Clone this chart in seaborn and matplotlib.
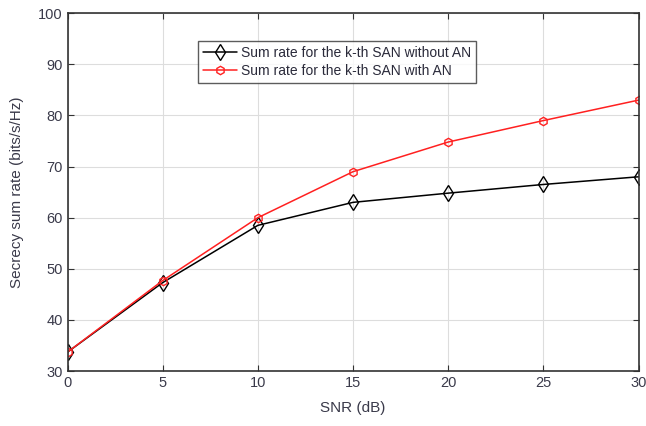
import matplotlib
matplotlib.use("Agg")
import matplotlib.pyplot as plt
import seaborn as sns
import pandas as pd

snr = [0, 5, 10, 15, 20, 25, 30]
rate_without_an = [33.7, 47.3, 58.5, 63.0, 64.8, 66.5, 68.0]
rate_with_an = [33.7, 47.7, 60.0, 69.0, 74.8, 79.0, 83.0]
label_without = "Sum rate for the k-th SAN without AN"
label_with = "Sum rate for the k-th SAN with AN"

sns.set_theme(style="white")
plt.rcParams['font.family'] = ['Liberation Sans', 'DejaVu Sans']

df = pd.DataFrame({"snr": snr, "without": rate_without_an, "with": rate_with_an})

fig = plt.figure(figsize=(6.46, 4.26), dpi=100)
ax = fig.add_axes([0.1045, 0.129, 0.884, 0.840])

sns.lineplot(data=df, x="snr", y="without", ax=ax, color="black", lw=1.1,
             marker="d", markersize=8, markerfacecolor="none",
             markeredgecolor="black", markeredgewidth=1.0, label=label_without)
sns.lineplot(data=df, x="snr", y="with", ax=ax, color="#ff2020", lw=1.1,
             marker="h", markersize=6, markerfacecolor="none",
             markeredgecolor="#ff2020", markeredgewidth=1.0, label=label_with)

ax.set_xlim(0, 30)
ax.set_ylim(30, 100)
ax.set_xticks(range(0, 31, 5))
ax.set_yticks(range(30, 101, 10))
ax.grid(True, color="#dddddd", lw=0.8)
ax.set_axisbelow(True)
for s in ax.spines.values():
    s.set_visible(True)
    s.set_color("#333333")
    s.set_linewidth(1.2)
ax.tick_params(direction="in", length=4, width=0.8, colors="#333333",
               labelcolor="#3a3a4a", labelsize=10.5, top=True, right=True,
               bottom=True, left=True)
ax.set_xlabel("SNR (dB)", fontsize=11, color="#3a3a4a", labelpad=8)
ax.set_ylabel("Secrecy sum rate (bits/s/Hz)", fontsize=11, color="#3a3a4a", labelpad=10)

leg = ax.legend(loc="upper left", bbox_to_anchor=(0.228, 0.923), fontsize=10,
                frameon=True, fancybox=False, edgecolor="#333333",
                handlelength=2.5, borderpad=0.35, labelspacing=0.3,
                handletextpad=0.3, borderaxespad=0)
leg.get_frame().set_linewidth(1.0)
for t in leg.get_texts():
    t.set_color("#2a2a3a")

fig.savefig("out.png", dpi=100)
